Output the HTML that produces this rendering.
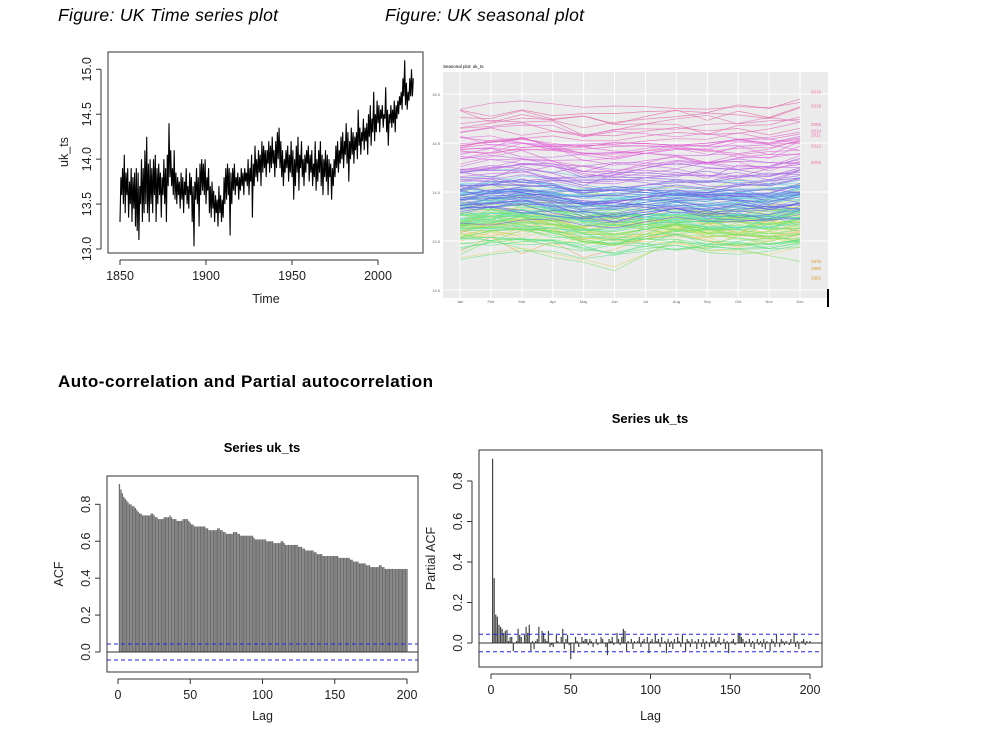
<!DOCTYPE html>
<html><head><meta charset="utf-8"><style>
body{margin:0;background:#fff;}
svg{display:block;font-family:"Liberation Sans",Arial,sans-serif;}
</style></head><body>
<svg id="root" width="996" height="750" viewBox="0 0 996 750">
<text x="58" y="21" font-size="17.5" font-style="italic" fill="#000" textLength="220">Figure: UK Time series plot</text>
<text x="385" y="21" font-size="17.5" font-style="italic" fill="#000" textLength="199">Figure: UK seasonal plot</text>
<text x="58" y="387" font-size="17" font-weight="bold" fill="#000" textLength="375">Auto-correlation and Partial autocorrelation</text>
<g id="ts"></g>
<g id="sea"></g>
<g id="acf"></g>
<g id="pacf"></g>
<rect x="827" y="289" width="2" height="18" fill="#000"/>
</svg>
<script>
const NS="http://www.w3.org/2000/svg";
function mk(tag,attrs,parent){const e=document.createElementNS(NS,tag);for(const k in attrs)e.setAttribute(k,attrs[k]);parent.appendChild(e);return e;}

// ---------- Time series data (half-yearly, starting 1850) ----------
const tsStartYear=1850;
const tsStep=0.5;
const tsValues=[
13.3,13.8,13.6,13.9,13.5,14.05,13.4,13.85,13.6,13.9,13.35,13.75,13.5,13.9,13.3,13.8,13.45,13.85,13.25,13.9,
13.2,13.85,13.1,13.7,13.5,14.0,13.3,13.9,13.4,14.1,13.5,14.25,13.4,13.95,13.3,14.0,13.5,13.9,13.4,14.0,
13.6,14.05,13.3,13.9,13.5,13.95,13.6,13.85,13.35,13.8,13.6,14.0,13.5,13.9,13.3,14.05,13.7,14.4,13.8,14.1,
13.7,13.9,13.6,14.1,13.55,13.85,13.5,13.8,13.6,13.75,13.45,13.85,13.55,13.8,13.4,13.75,13.6,13.9,13.5,13.7,
13.45,13.85,13.6,13.8,13.3,13.7,13.03,13.75,13.55,13.9,13.5,13.8,13.25,13.95,13.6,14.0,13.65,13.95,13.6,14.0,
13.5,13.8,13.65,13.9,13.4,13.7,13.35,13.75,13.45,13.65,13.3,13.6,13.4,13.55,13.25,13.7,13.4,13.6,13.3,13.55,
13.35,13.8,13.5,13.9,13.55,13.95,13.6,13.9,13.15,13.85,13.5,13.9,13.65,13.95,13.6,13.8,13.7,13.85,13.55,13.8,
13.65,13.9,13.7,13.85,13.6,13.9,13.75,13.85,13.7,14.0,13.6,13.9,13.75,14.05,13.35,13.95,13.7,14.15,13.8,14.0,
13.75,14.1,13.85,14.05,13.7,14.2,13.85,14.15,13.9,14.1,13.8,14.1,13.95,14.2,13.85,14.15,13.9,14.25,13.95,14.1,
13.8,14.2,13.9,14.3,14.0,14.35,13.9,14.2,13.8,14.1,13.7,14.0,13.85,14.1,13.9,14.15,13.75,14.05,13.85,14.2,
13.8,14.1,13.55,14.0,13.7,14.15,13.85,14.25,13.65,14.05,13.9,14.2,13.8,14.0,13.7,14.05,13.85,14.1,13.95,14.15,
13.75,14.05,13.85,14.1,13.7,13.95,13.8,14.2,13.65,14.0,13.75,14.1,13.85,14.2,13.7,14.05,13.6,14.0,13.8,14.1,
13.75,14.05,13.6,14.0,13.8,13.95,13.55,13.9,13.7,14.0,13.8,14.15,13.9,14.2,13.85,14.1,13.95,14.25,14.0,14.3,
13.9,14.2,14.05,14.4,13.95,14.3,13.75,14.2,14.0,14.35,14.05,14.3,13.95,14.25,14.1,14.3,14.0,14.55,14.15,14.35,
14.05,14.3,14.2,14.45,14.1,14.35,14.2,14.4,14.05,14.5,14.25,14.6,14.15,14.45,14.3,14.75,14.2,14.5,14.3,14.65,
14.4,14.6,14.3,14.55,14.45,14.6,14.35,14.5,14.45,14.8,14.3,14.55,14.15,14.5,14.4,14.6,14.35,14.55,14.4,14.65,
14.3,14.6,14.45,14.65,14.5,14.7,14.6,14.75,14.55,14.9,14.7,15.1,14.6,14.85,14.55,14.75,14.65,14.9,14.7,15.0,
14.7,14.9];
const tsYTicks=[13.0,13.5,14.0,14.5,15.0];
const tsYTickLabels=["13.0","13.5","14.0","14.5","15.0"];
const tsXTicks=[1850,1900,1950,2000];

// ---------- Seasonal data ----------
const monthLabels=["Jan","Feb","Mar","Apr","May","Jun","Jul","Aug","Sep","Oct","Nov","Dec"];
const monthOffset=[0,0.02,0.03,0.0,-0.05,-0.05,-0.03,-0.02,-0.04,-0.03,-0.04,0];
const seaYTicks=[13.0,13.5,14.0,14.5,15.0];
const seaLegendYears=["2016","2019","2008","2014","2011","2012","2002","1876","1885","1862"];
const seaLegendVals=[15.02,14.88,14.69,14.62,14.58,14.47,14.3,13.29,13.22,13.12];

// ---------- ACF data (lags 1..200) ----------
const acfValues=[
0.91,0.88,0.86,0.84,0.83,0.82,0.81,0.80,0.80,0.79,0.79,0.78,0.77,0.76,0.75,0.75,0.74,0.74,0.74,0.74,
0.74,0.74,0.75,0.75,0.74,0.73,0.73,0.72,0.72,0.72,0.72,0.73,0.73,0.73,0.73,0.74,0.73,0.72,0.72,0.72,
0.71,0.71,0.71,0.71,0.72,0.72,0.72,0.72,0.71,0.70,0.69,0.69,0.68,0.68,0.68,0.68,0.68,0.68,0.68,0.68,
0.67,0.67,0.66,0.66,0.66,0.66,0.66,0.66,0.67,0.67,0.66,0.66,0.65,0.65,0.64,0.64,0.64,0.64,0.64,0.65,
0.65,0.65,0.64,0.64,0.63,0.63,0.63,0.63,0.63,0.63,0.63,0.63,0.63,0.62,0.61,0.61,0.61,0.61,0.61,0.61,
0.61,0.61,0.60,0.60,0.60,0.60,0.60,0.59,0.59,0.59,0.59,0.59,0.60,0.60,0.59,0.58,0.58,0.58,0.58,0.58,
0.58,0.58,0.58,0.58,0.57,0.57,0.57,0.56,0.56,0.55,0.55,0.55,0.55,0.55,0.55,0.54,0.54,0.53,0.53,0.53,
0.53,0.52,0.52,0.52,0.52,0.52,0.52,0.52,0.52,0.52,0.52,0.52,0.51,0.51,0.51,0.51,0.51,0.51,0.51,0.51,
0.50,0.50,0.49,0.49,0.49,0.49,0.48,0.48,0.48,0.48,0.48,0.47,0.47,0.47,0.46,0.46,0.46,0.46,0.46,0.46,
0.47,0.47,0.46,0.46,0.45,0.45,0.45,0.45,0.45,0.45,0.45,0.45,0.45,0.45,0.45,0.45,0.45,0.45,0.45,0.45];
const pacfValues=[
0.91,0.32,0.14,0.13,0.09,0.08,0.07,0.05,0.06,0.065,0.01,0.03,0.03,-0.04,0.0,0.01,0.07,0.04,0.03,0.0,
0.04,0.08,0.05,0.09,-0.04,0.01,-0.03,0.01,0.02,0.08,0.0,0.06,0.05,0.02,0.01,0.06,-0.02,-0.01,-0.02,0.0,
0.04,0.01,0.0,0.03,0.07,-0.03,0.02,0.04,-0.01,-0.08,0.0,-0.05,0.03,0.01,-0.02,0.0,0.03,0.01,0.02,0.02,
-0.01,0.02,0.01,-0.02,0.0,0.02,-0.01,0.0,0.03,0.02,0.0,-0.02,-0.06,0.02,0.01,0.03,-0.01,0.0,0.05,0.02,
-0.01,0.03,0.07,0.06,-0.04,0.01,0.0,0.02,-0.03,0.01,0.0,0.01,0.03,-0.02,0.01,0.02,0.0,0.03,-0.05,0.01,
0.02,0.0,0.04,0.01,0.02,-0.02,0.03,0.0,0.01,-0.05,0.02,-0.02,0.01,-0.03,0.02,0.0,0.03,0.01,-0.02,0.04,
0.0,-0.04,0.02,0.01,-0.02,0.02,0.0,0.01,-0.03,0.02,0.0,-0.02,0.02,-0.03,0.01,0.0,-0.02,0.03,0.01,0.02,
-0.02,0.01,0.03,-0.01,0.0,0.02,-0.03,0.01,-0.05,0.0,0.01,0.02,-0.01,0.0,0.05,0.05,0.03,0.02,-0.02,0.01,
0.0,0.02,-0.02,0.01,-0.03,0.0,0.02,-0.01,0.01,-0.02,0.02,-0.03,0.01,0.0,-0.04,0.02,0.01,-0.02,0.04,0.0,
-0.02,0.02,0.01,-0.01,0.01,0.0,-0.01,0.02,0.0,0.05,-0.02,0.01,-0.03,0.0,0.01,0.02,-0.01,0.01,0.0,0.01];
const ciBound=0.0434;
const lagTicks=[0,50,100,150,200];
const acfYTicks=[0,0.2,0.4,0.6,0.8];
const acfYTickLabels=["0.0","0.2","0.4","0.6","0.8"];

// ---------- shared R-style axis helpers ----------
function rAxisX(g,ticks,labels,sx,yBox,name){
  const a=mk('line',{x1:sx(ticks[0]),x2:sx(ticks[ticks.length-1]),y1:yBox+7,y2:yBox+7,stroke:'#333','stroke-width':1},g);
  
  
  ticks.forEach((t,i)=>{
    const l=mk('line',{x1:sx(t),x2:sx(t),y1:yBox+7,y2:yBox+12,stroke:'#333'},g);
    
    
    const tx=mk('text',{x:sx(t),y:yBox+27,'font-size':12.5,'text-anchor':'middle',fill:'#222'},g);
    tx.textContent=labels[i];
    
    
  });
}
function rAxisY(g,ticks,labels,sy,xBox,name){
  const a=mk('line',{x1:xBox-7,x2:xBox-7,y1:sy(ticks[0]),y2:sy(ticks[ticks.length-1]),stroke:'#333'},g);
  
  
  ticks.forEach((t,i)=>{
    const l=mk('line',{x1:xBox-12,x2:xBox-7,y1:sy(t),y2:sy(t),stroke:'#333'},g);
    
    
    const tx=mk('text',{x:xBox-17,y:sy(t),'font-size':12.5,'text-anchor':'middle',fill:'#222',transform:`rotate(-90 ${xBox-17} ${sy(t)})`},g);
    tx.textContent=labels[i];
    
    
  });
}
function boxRect(g,x0,y0,x1,y1,name){
  const r=mk('rect',{x:x0,y:y0,width:x1-x0,height:y1-y0,fill:'none',stroke:'#333','stroke-width':1},g);
  
  
}
function label(g,x,y,txt,name,rot,extra){
  const t=mk('text',Object.assign({x:x,y:y,'font-size':12.5,'text-anchor':'middle',fill:'#222'},extra||{}),g);
  if(rot)t.setAttribute('transform',`rotate(-90 ${x} ${y})`);
  t.textContent=txt;
  
  
}

// ---------- Time series ----------
(function(){
  const g=document.getElementById('ts');
  const X0=108,X1=423,Y0=52,Y1=253;
  const sx=v=>120+(v-1850)*(258/150);
  const sy=v=>249-(v-13)*(179.7/2);
  boxRect(g,X0,Y0,X1,Y1,'time-series');
  rAxisX(g,tsXTicks,tsXTicks.map(String),sx,Y1,'time-series');
  rAxisY(g,tsYTicks,tsYTickLabels,sy,X0,'time-series');
  label(g,266,303,'Time','time-series-x-axis-title');
  label(g,68,152,'uk_ts','time-series-y-axis-title',true);
  const pts=tsValues.map((v,i)=>sx(tsStartYear+i*tsStep).toFixed(1)+','+sy(v).toFixed(1)).join(' ');
  const pl=mk('polyline',{points:pts,fill:'none',stroke:'#000','stroke-width':1.1},g);
  
  
})();

// ---------- Seasonal ----------
(function(){
  const g=document.getElementById('sea');
  const X0=443,X1=828,Y0=72,Y1=298;
  const sx=m=>460+m*(340/11);
  const sy=v=>290-(v-13)*(196/2);
  const bg=mk('rect',{x:X0,y:Y0,width:X1-X0,height:Y1-Y0,fill:'#ebebeb'},g);
  
  
  seaYTicks.forEach(t=>{
    const l=mk('line',{x1:X0,x2:X1,y1:sy(t),y2:sy(t),stroke:'#fff','stroke-width':1},g);
    
    
    const tx=mk('text',{x:X0-3,y:sy(t)+2,'font-size':4,'text-anchor':'end',fill:'#666'},g);
    tx.textContent=t.toFixed(1);
    
    
  });
  monthLabels.forEach((m,i)=>{
    const l=mk('line',{x1:sx(i),x2:sx(i),y1:Y0,y2:Y1,stroke:'#fff','stroke-width':1},g);
    
    
    const tx=mk('text',{x:sx(i),y:Y1+5,'font-size':4,'text-anchor':'middle',fill:'#666'},g);
    tx.textContent=m;
    
    
  });
  const title=mk('text',{x:443,y:68,'font-size':4.5,fill:'#000'},g);
  title.textContent='Seasonal plot: uk_ts';
  
  
  const nYears=Math.floor(tsValues.length/2);
  const N=tsValues.length;
  for(let y=0;y<nYears;y++){
    const mean=(tsValues[2*y]+tsValues[2*y+1])/2;
    const hue=(35+300*y/nYears)%360;
    const pts=monthLabels.map((m,i)=>{
      const k=Math.min(N-1,Math.max(0,2*y-5+i));
      const k2=Math.min(N-1,Math.max(0,2*y+7-i));
      const v=mean+0.28*(tsValues[k]-tsValues[k2])+monthOffset[i];
      return sx(i).toFixed(1)+','+sy(v).toFixed(1);
    }).join(' ');
    const pl=mk('polyline',{points:pts,fill:'none',stroke:`hsl(${hue},70%,62%)`,'stroke-width':0.7,'stroke-opacity':0.7},g);
    
    
  }
  seaLegendYears.forEach((yr,i)=>{
    const tx=mk('text',{x:811,y:sy(seaLegendVals[i])+1.5,'font-size':4.5,fill:i<7?'#f06ba8':'#d89a30'},g);
    tx.textContent=yr;
    
    
  });
})();

// ---------- ACF-type bar chart ----------
function corrChart(gid,vals,X0,X1,Y0,Y1,lag0x,pxPerLag,zeroY,pxPerUnit,yTitle,titleX,titleY,name,barW,barCol){
  const g=document.getElementById(gid);
  const sx=l=>lag0x+l*pxPerLag;
  const sy=v=>zeroY-v*pxPerUnit;
  vals.forEach((v,i)=>{
    const lag=i+1;
    const r=mk('rect',{x:sx(lag)-barW/2,y:Math.min(sy(v),sy(0)),width:barW,height:Math.abs(sy(v)-sy(0)),fill:barCol},g);
    
    
  });
  const z=mk('line',{x1:X0,x2:X1,y1:sy(0),y2:sy(0),stroke:'#333','stroke-width':1},g);
  
  
  [ciBound,-ciBound].forEach(c=>{
    const l=mk('line',{x1:X0,x2:X1,y1:sy(c),y2:sy(c),stroke:'#2222ee','stroke-width':1,'stroke-dasharray':'4,3'},g);
    
    
  });
  boxRect(g,X0,Y0,X1,Y1,name);
  rAxisX(g,lagTicks,lagTicks.map(String),sx,Y1,name);
  rAxisY(g,acfYTicks,acfYTickLabels,sy,X0,name);
  label(g,(X0+X1)/2,720,'Lag',name+'-x-axis-title');
  label(g,X0-44,(Y0+Y1)/2,yTitle,name+'-y-axis-title',true);
  label(g,titleX,titleY,'Series  uk_ts',name+'-title',false,{'font-weight':'bold','font-size':13,fill:'#000'});
}
corrChart('acf',acfValues,107,418,476,672,118,289/200,652,184.6,'ACF',262,452,'acf',1.3,'#6d6d6d');
corrChart('pacf',pacfValues,479,822,450,667,491,319/200,643,202.5,'Partial ACF',650,423,'pacf',1.2,'#444');
</script>
</body></html>
